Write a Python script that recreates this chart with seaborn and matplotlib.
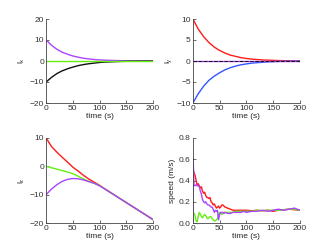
import matplotlib
matplotlib.use("Agg")
import matplotlib.pyplot as plt
import seaborn as sns

# exponential-looking decays, read at 10 s steps
t10 = [0, 10, 20, 30, 40, 50, 60, 70, 80, 90, 100,
       110, 120, 130, 140, 150, 160, 170, 180, 190, 200]

lx_purple = [10, 7.5, 5.6, 4.2, 3.2, 2.4, 1.8, 1.3, 1.0, 0.7, 0.5,
             0.4, 0.3, 0.2, 0.15, 0.1, 0.08, 0.05, 0.04, 0.03, 0.02]
lx_black = [-10, -7.8, -6.0, -4.7, -3.7, -2.9, -2.2, -1.7, -1.3, -1.0, -0.7,
            -0.5, -0.4, -0.3, -0.2, -0.15, -0.1, -0.08, -0.05, -0.04, -0.03]
lx_green = [0] * 21

ly_red = [10, 7.6, 5.8, 4.4, 3.3, 2.5, 1.9, 1.4, 1.1, 0.8, 0.6,
          0.45, 0.35, 0.25, 0.2, 0.15, 0.1, 0.08, 0.06, 0.04, 0.03]
ly_blue = [-10, -7.8, -6.0, -4.6, -3.6, -2.8, -2.1, -1.6, -1.2, -0.9, -0.7,
           -0.5, -0.4, -0.3, -0.2, -0.15, -0.1, -0.08, -0.06, -0.04, -0.03]
ly_zero = [0] * 21

lz_red = [10, 7.0, 5.0, 3.2, 1.5, -0.3, -1.7, -3.2, -4.5, -5.6, -6.7,
          -8.0, -9.2, -10.4, -11.6, -12.8, -14.0, -15.2, -16.4, -17.6, -18.8]
lz_green = [0, -0.5, -1.0, -1.5, -2.0, -2.6, -3.5, -4.5, -5.3, -6.0, -6.8,
            -8.0, -9.2, -10.4, -11.6, -12.8, -14.0, -15.2, -16.4, -17.6, -18.8]
lz_purple = [-10, -8.0, -6.5, -5.3, -4.6, -4.3, -4.4, -4.8, -5.4, -6.0, -6.9,
             -8.0, -9.2, -10.4, -11.6, -12.8, -14.0, -15.2, -16.4, -17.6, -18.8]

# speed traces
ts = [0, 2, 4, 6, 8, 10, 12, 14, 16, 18, 20, 22, 24, 26, 28, 30, 32, 34, 36, 38,
      40, 42, 44, 46, 48, 50, 52, 54, 56, 58, 60, 65, 70, 75, 80, 85, 90, 95, 100,
      110, 120, 130, 140, 150, 160, 170, 180, 190, 200]
sp_red = [0.52, 0.47, 0.45, 0.40, 0.36, 0.37, 0.35, 0.33, 0.34, 0.30,
          0.28, 0.29, 0.26, 0.24, 0.24, 0.23, 0.24, 0.20, 0.19, 0.17,
          0.18, 0.16, 0.14, 0.15, 0.16, 0.14, 0.15, 0.17, 0.17, 0.16,
          0.15, 0.14, 0.13, 0.12, 0.12, 0.12, 0.12, 0.12, 0.12,
          0.115, 0.12, 0.115, 0.12, 0.11, 0.12, 0.125, 0.13, 0.125, 0.12]
sp_green = [0.10, 0.09, 0.07, 0.02, 0.01, 0.06, 0.10, 0.08, 0.06, 0.05,
            0.07, 0.08, 0.07, 0.05, 0.04, 0.05, 0.06, 0.06, 0.04, 0.03,
            0.02, 0.02, 0.03, 0.04, 0.08, 0.10, 0.09, 0.08, 0.09, 0.10,
            0.10, 0.10, 0.10, 0.10, 0.11, 0.11, 0.11, 0.11, 0.11,
            0.11, 0.12, 0.115, 0.12, 0.12, 0.12, 0.125, 0.13, 0.13, 0.12]
tp = [0, 0.5] + ts[1:]
sp_purple = [0.0, 0.61, 0.36, 0.35, 0.36, 0.35, 0.35, 0.34, 0.30, 0.27, 0.22,
             0.20, 0.19, 0.20, 0.18, 0.17, 0.17, 0.16, 0.15, 0.15, 0.13,
             0.10, 0.12, 0.11, 0.12, 0.03, 0.08, 0.10, 0.10, 0.10, 0.09,
             0.10, 0.09, 0.09, 0.10, 0.10, 0.10, 0.10, 0.11, 0.10,
             0.11, 0.11, 0.12, 0.11, 0.12, 0.13, 0.12, 0.13, 0.14, 0.12]

RED = "#ff1a1a"
GREEN = "#66ee11"
PURPLE = "#aa44ff"
BLUE = "#3355ff"
BLACK = "#111111"

sns.set_style("ticks")
plt.rcParams["font.family"] = ["Liberation Sans", "DejaVu Sans"]
plt.rcParams["font.size"] = 6
plt.rcParams["mathtext.default"] = "regular"
plt.rcParams["xtick.direction"] = "in"
plt.rcParams["ytick.direction"] = "in"
plt.rcParams["xtick.major.size"] = 2
plt.rcParams["ytick.major.size"] = 2
plt.rcParams["axes.linewidth"] = 0.6
plt.rcParams["xtick.major.width"] = 0.5
plt.rcParams["ytick.major.width"] = 0.5
plt.rcParams["axes.edgecolor"] = "#444444"

fig = plt.figure(figsize=(3.32, 2.5), dpi=100)
ax1 = fig.add_axes([0.139, 0.588, 0.322, 0.336])
ax2 = fig.add_axes([0.581, 0.588, 0.322, 0.336])
ax3 = fig.add_axes([0.139, 0.108, 0.322, 0.340])
ax4 = fig.add_axes([0.581, 0.108, 0.322, 0.340])

lw = 1.0
sns.lineplot(x=t10, y=lx_purple, color=PURPLE, lw=lw, ax=ax1)
sns.lineplot(x=t10, y=lx_black, color=BLACK, lw=lw, ax=ax1)
sns.lineplot(x=t10, y=lx_green, color=GREEN, lw=lw, ax=ax1)

sns.lineplot(x=t10, y=ly_red, color=RED, lw=lw, ax=ax2)
sns.lineplot(x=t10, y=ly_blue, color=BLUE, lw=lw, ax=ax2)
sns.lineplot(x=t10, y=ly_zero, color=PURPLE, lw=lw, ax=ax2)
sns.lineplot(x=t10, y=ly_zero, color=BLACK, lw=0.7, ax=ax2, linestyle="--")

sns.lineplot(x=t10, y=lz_red, color=RED, lw=lw, ax=ax3)
sns.lineplot(x=t10, y=lz_green, color=GREEN, lw=lw, ax=ax3)
sns.lineplot(x=t10, y=lz_purple, color=PURPLE, lw=lw, ax=ax3)

sns.lineplot(x=ts, y=sp_red, color=RED, lw=lw, ax=ax4)
sns.lineplot(x=ts, y=sp_green, color=GREEN, lw=lw, ax=ax4)
sns.lineplot(x=tp, y=sp_purple, color=PURPLE, lw=lw, ax=ax4)

limits = [(-20, 20, [-20, -10, 0, 10, 20]),
          (-10, 10, [-10, -5, 0, 5, 10]),
          (-20, 10, [-20, -10, 0, 10]),
          (0, 0.8, [0, 0.2, 0.4, 0.6, 0.8])]
ylabels = [r"$l_x$", r"$l_y$", r"$l_z$", "speed (m/s)"]

for ax, (lo, hi, ticks), lab in zip([ax1, ax2, ax3, ax4], limits, ylabels):
    ax.set_xlim(0, 200)
    ax.set_xticks([0, 50, 100, 150, 200])
    ax.set_ylim(lo, hi)
    ax.set_yticks(ticks)
    ax.set_xlabel("time (s)", labelpad=1)
    ax.set_ylabel(lab, labelpad=2)
    ax.tick_params(labelsize=6, pad=1.5, colors="#333333")
    sns.despine(ax=ax)

fig.savefig("out.png", dpi=100)
